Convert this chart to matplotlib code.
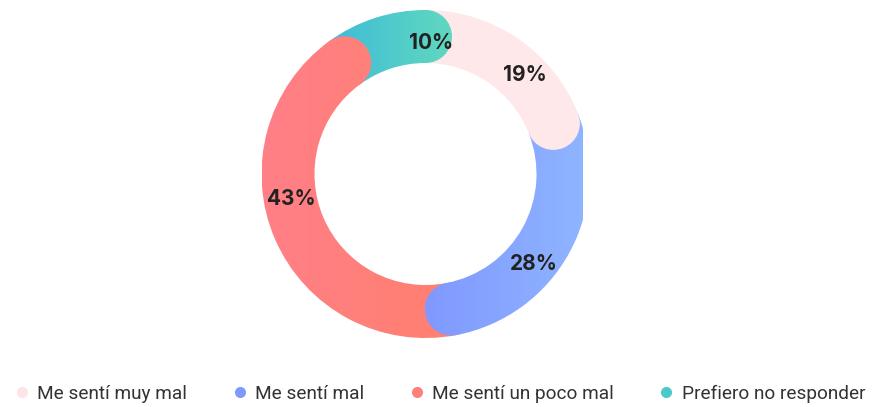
import numpy as np
import matplotlib
matplotlib.use("Agg")
import matplotlib.pyplot as plt
from matplotlib.patches import Wedge, Circle
from matplotlib.colors import LinearSegmentedColormap
from matplotlib.lines import Line2D

# ---- data ----
categories = ["Me sentí muy mal", "Me sentí mal", "Me sentí un poco mal", "Prefiero no responder"]
values = [19, 28, 43, 10]
labels = ["19%", "28%", "43%", "10%"]

# ---- styles ----
grad_left = ["#FFE8EA", "#8098FF", "#FF8088", "#3FBCD9"]
grad_right = ["#FFE8EA", "#8FB6FF", "#FF7F6E", "#62D9BD"]
legend_colors = ["#FFE4E7", "#8099FF", "#FF7F7A", "#4CC9CB"]
label_shift_deg = [0, 0, 2, 9.5]
label_shift_r = [3, 3, -1, -6]

W, H = 876, 407
fig = plt.figure(figsize=(W / 100, H / 100), dpi=100)
clip_x = 583
ax = fig.add_axes([0, 0, clip_x / W, 1])
ax.axis("off")

cx, cy = 425.5, H - 174
r_out, r_in = 164, 111
width = r_out - r_in
r_mid = (r_out + r_in) / 2
cap_r = width / 2
cap_deg = np.degrees(cap_r / r_mid)

total = sum(values)
bounds = np.concatenate([[0], np.cumsum(values)]) / total * 360.0  # clockwise from top


def pt(a_cw, r):
    t = np.radians(90 - a_cw)
    return cx + r * np.cos(t), cy + r * np.sin(t)


grad = np.linspace(0, 1, 256).reshape(1, -1)
caps = []
for i in range(len(values)):
    a0, a1 = bounds[i], bounds[i + 1]
    cmap = LinearSegmentedColormap.from_list(f"g{i}", [grad_left[i], grad_right[i]])
    w = Wedge((cx, cy), r_out, 90 - a1, 90 - a0, width=width, facecolor="none", edgecolor="none")
    ax.add_patch(w)
    ex, ey = pt(a1, r_mid)
    c = Circle((ex, ey), cap_r, facecolor="none", edgecolor="none")
    ax.add_patch(c)
    angs = np.linspace(a0, a1 + cap_deg, 200)
    xs = np.concatenate([pt(angs, r_out)[0], pt(angs, r_in)[0]])
    x0, x1 = xs.min(), xs.max()
    im = ax.imshow(grad, cmap=cmap, extent=[x0, x1, cy - r_out - 5, cy + r_out + 5],
                   aspect="auto", zorder=1, interpolation="bilinear")
    im.set_clip_path(w)
    caps.append((c, cmap, x0, x1))

for c, cmap, x0, x1 in caps:
    im = ax.imshow(grad, cmap=cmap, extent=[x0, x1, cy - r_out - 5, cy + r_out + 5],
                   aspect="auto", zorder=2, interpolation="bilinear")
    im.set_clip_path(c)

ax.set_xlim(0, clip_x)
ax.set_ylim(0, H)

for i, lab in enumerate(labels):
    a = (bounds[i] + bounds[i + 1]) / 2 + cap_deg + label_shift_deg[i]
    lx, ly = pt(a, r_mid + label_shift_r[i])
    ax.text(lx, ly, lab, ha="center", va="center", fontsize=15, fontweight="bold",
            color="#222222", family="Inter", zorder=5)

handles = [Line2D([], [], marker="o", linestyle="none", markersize=8,
                  markerfacecolor=col, markeredgecolor="none") for col in legend_colors]
fig.legend(handles, categories, loc="center", bbox_to_anchor=(438 / W, 1 - 394 / H),
           ncol=4, frameon=False, handletextpad=0.22, columnspacing=2.2, handlelength=1.15,
           prop={"family": "Roboto", "size": 13.7}, labelcolor="#333333")

fig.savefig("out.png", dpi=100)
